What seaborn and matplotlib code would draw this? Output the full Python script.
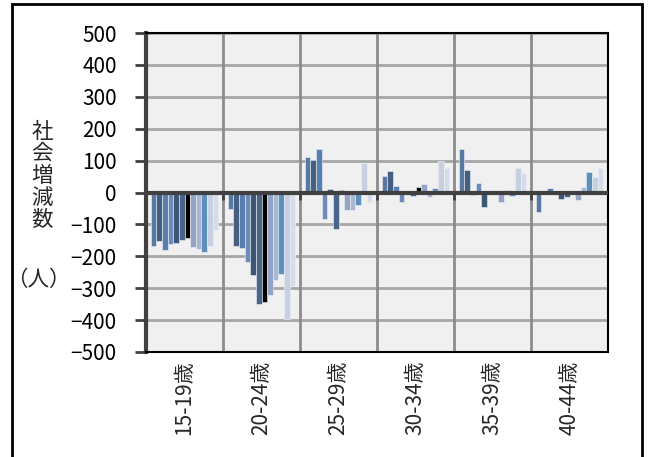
import numpy as np
import pandas as pd
import seaborn as sns
import matplotlib.pyplot as plt
from matplotlib.patches import Rectangle

# age groups on the x axis
ages = ["15-19歳", "20-24歳", "25-29歳", "30-34歳", "35-39歳", "40-44歳"]
# twelve series per age group (no legend in the original)
series = ["系列1", "系列2", "系列3", "系列4", "系列5", "系列6",
          "系列7", "系列8", "系列9", "系列10", "系列11", "系列12"]

# social increase/decrease (people), one list per age group
v_15_19 = [-167, -152, -180, -161, -158, -150, -143, -170, -176, -185, -168, -116]
v_20_24 = [-52, -169, -173, -218, -260, -350, -342, -321, -273, -255, -395, -294]
v_25_29 = [111, 102, 136, -83, 11, -113, 8, -54, -56, -39, 92, -30]
v_30_34 = [53, 68, 21, -29, 5, -10, 16, 26, -14, 13, 99, 76]
v_35_39 = [137, 71, -9, 30, -46, 0, -6, -31, 9, -11, 76, 61]
v_40_44 = [-62, 0, 13, 0, -21, -13, 0, -25, 18, 64, 48, 78]

colors = ["#4a76b0", "#3a5e8c", "#4a7cbe", "#6088c4", "#345580", "#3e6496",
          "#000000", "#8aa3cf", "#a2b5d9", "#4f8fca", "#c2cfe6", "#d2dbec"]

rows = []
for age, vals in zip(ages, [v_15_19, v_20_24, v_25_29, v_30_34, v_35_39, v_40_44]):
    for s, v in zip(series, vals):
        rows.append({"age": age, "series": s, "value": v})
df = pd.DataFrame(rows)

sns.set_style("white")
plt.rcParams['font.family'] = ['Noto Sans CJK JP', 'DejaVu Sans']

fig = plt.figure(figsize=(6.5, 4.57), dpi=100)
ax = fig.add_axes([146/650, 1 - 352/457, (608 - 146)/650, (352 - 33)/457])
ax.set_facecolor("#f0f0f0")

# gridlines behind the bars
for y in range(-500, 501, 100):
    ax.axhline(y, color="#a6a6a6", lw=2, zorder=0)
bounds = np.arange(len(ages) + 1) - 0.5
ax.vlines(bounds[1:-1], -500, 500, color="#8c8c8c", lw=2, zorder=0)

sns.barplot(data=df, x="age", y="value", hue="series", palette=colors,
            width=0.88, edgecolor="#eef1f6", linewidth=0.4,
            legend=False, ax=ax, zorder=2)

# zero axis with small category ticks
ax.axhline(0, color="#404040", lw=3, zorder=3)
ax.vlines(bounds[:-1], -22, 0, color="#404040", lw=2, zorder=3, clip_on=False)

ax.set_xlim(-0.5, len(ages) - 0.5)
ax.set_ylim(-500, 500)
ax.set_yticks(range(-500, 501, 100))
ax.set_xlabel("")
ax.set_ylabel("")

ax.tick_params(axis="y", direction="out", length=8, width=2, color="#404040",
               pad=13, labelsize=15, labelcolor="black", left=True)
ax.tick_params(axis="x", length=0, pad=6, labelsize=15, labelrotation=90)

for side in ["top", "right", "bottom"]:
    ax.spines[side].set_color("black")
    ax.spines[side].set_linewidth(1.5)
ax.spines["left"].set_color("#404040")
ax.spines["left"].set_linewidth(3)

# y label: stacked characters plus unit
fig.text(42/650, 1 - 176/457, "社\n会\n増\n減\n数", fontsize=15.5, ha="center",
         va="center", linespacing=1.0)
fig.text(38/650, 1 - 280/457, "（人）", fontsize=15.5, ha="center", va="center")

# outer frame
fig.patches.append(Rectangle((12/650, -0.05), (642 - 12)/650, 1.05 - 4/457,
                             transform=fig.transFigure, fill=False,
                             lw=2, ec="black"))

fig.savefig("out.png", dpi=100)
